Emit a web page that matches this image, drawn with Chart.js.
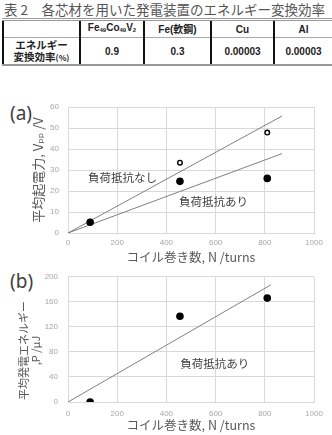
<!DOCTYPE html>
<html lang="ja">
<head>
<meta charset="utf-8">
<script src="https://cdn.jsdelivr.net/npm/chart.js@4.4.1/dist/chart.umd.min.js"></script>
<style>
  body { margin: 0; width: 332px; height: 435px; background: #fff; position: relative; overflow: hidden;
         font-family: 'Noto Sans CJK JP', sans-serif; }
  .caption { position: absolute; left: 4px; top: -1px; font-size: 13.5px; color: #555; white-space: nowrap; }
  table { position: absolute; left: 2px; top: 18px; width: 329px; border-collapse: collapse; table-layout: fixed;
          font-family: 'Liberation Sans', 'Noto Sans CJK JP', sans-serif; font-weight: bold; color: #222; }
  td { border-left: 2px solid #111; text-align: center; padding: 0; font-size: 10px; line-height: 11px; }
  tr.head td { height: 16px; border-top: 3px double #999; border-bottom: 1px solid #aaa; }
  tr.body td { height: 26px; border-bottom: 2px solid #999; }
  td.rowname { font-family: 'Noto Sans CJK JP', sans-serif; font-size: 10.5px; line-height: 12px; }
  td.rowname small { font-size: 8px; }
  sub { font-size: 6px; vertical-align: -1px; }
  .panel { position: absolute; left: 0; }
  .tag { position: absolute; left: 10px; font-size: 19px; color: #404040; font-family: 'Noto Sans', sans-serif; }
</style>
</head>
<body>
<div class="caption">表 2　各芯材を用いた発電装置のエネルギー変換効率</div>
<table>
  <colgroup><col style="width:77px"><col style="width:64px"><col style="width:67px"><col style="width:63px"><col style="width:58px"></colgroup>
  <tr class="head"><td></td><td>Fe<sub>49</sub>Co<sub>49</sub>V<sub>2</sub></td><td>Fe(軟鋼)</td><td>Cu</td><td>Al</td></tr>
  <tr class="body"><td class="rowname">エネルギー<br>変換効率<small>(%)</small></td><td>0.9</td><td>0.3</td><td>0.00003</td><td>0.00003</td></tr>
</table>

<div class="tag" style="top:100px">(a)</div>
<div class="panel" style="top:88px"><canvas id="chartA" width="332" height="177"></canvas></div>
<div class="tag" style="top:268px">(b)</div>
<div class="panel" style="top:262px"><canvas id="chartB" width="332" height="173"></canvas></div>

<script>
// ---- data ----
const turns = [90, 455, 810];
const vppNoLoad = [5.3, 33.5, 47.8];      // open circles
const vppLoad = [5.1, 24.6, 26.0];        // filled circles
const energyLoad = [0, 137, 166];         // panel (b), µJ
const fitTurnsA = [0, 870];
const fitNoLoad = [0, 55.7];
const fitLoad = [0, 37.8];
const fitTurnsB = [0, 824];
const fitEnergy = [0, 187];
const xTicks = [0, 200, 400, 600, 800, 1000];

const FONT_JP = "'Noto Sans CJK JP', 'DejaVu Sans', sans-serif";
const GRID = '#d9d9d9';
const TICK = '#a6a6a6';
const TEXT = '#595959';
const FIT = '#808080';

const pts = (xs, ys) => xs.map((x, i) => ({ x, y: ys[i] }));

// label text placed in data coordinates
const notesPlugin = {
    id: 'notes',
    afterDatasetsDraw(chart, args, opts) {
        const { ctx, scales: { x, y } } = chart;
        ctx.save();
        ctx.font = "11.5px " + FONT_JP;
        ctx.fillStyle = '#404040';
        ctx.textAlign = 'center';
        ctx.textBaseline = 'middle';
        (opts.items || []).forEach(n => ctx.fillText(n.text, x.getPixelForValue(n.x), y.getPixelForValue(n.y)));
        ctx.restore();
    }
};

function makeScales(yMax, yStep, yTitle, yTitleFont, yTitlePad, yTickPad, xTickPad, xTitlePad, xHeight) {
    return {
        x: {
            type: 'linear', min: 0, max: 1000,
            afterBuildTicks: s => { s.ticks = xTicks.map(v => ({ value: v })); },
            grid: { color: GRID, drawTicks: false },
            border: { color: GRID },
            ticks: { color: TICK, padding: xTickPad, font: { family: 'Liberation Sans', size: 8 },
                     callback: v => String(v) },
            title: { display: true, text: 'コイル巻き数, N /turns', color: TEXT,
                     padding: { top: 0, bottom: xTitlePad }, font: { family: FONT_JP, size: 12.5, lineHeight: 1.2 } },
            afterFit: s => { s.height = xHeight; }
        },
        y: {
            min: 0, max: yMax,
            grid: { color: GRID, drawTicks: false },
            border: { color: GRID },
            ticks: { stepSize: yStep, color: TICK, padding: yTickPad, font: { family: 'Liberation Sans', size: 8 },
                     callback: v => String(v) },
            title: { display: true, text: yTitle, color: TEXT,
                     padding: { top: yTitlePad, bottom: 0 }, font: yTitleFont },
            afterFit: s => { s.width = 68; }
        }
    };
}

const common = {
    responsive: false,
    animation: false,
    devicePixelRatio: 1,
    plugins: { legend: { display: false }, tooltip: { enabled: false } }
};

new Chart(document.getElementById('chartA'), {
    type: 'scatter',
    data: {
        datasets: [
            { data: pts(turns, vppLoad), pointRadius: 3.8, pointBackgroundColor: '#000', pointBorderColor: '#000', pointBorderWidth: 0 },
            { data: pts(turns, vppNoLoad), pointRadius: 2.3, pointBackgroundColor: '#fff', pointBorderColor: '#000', pointBorderWidth: 1.4 },
            { data: pts(fitTurnsA, fitNoLoad), showLine: true, pointRadius: 0, borderColor: FIT, borderWidth: 1 },
            { data: pts(fitTurnsA, fitLoad), showLine: true, pointRadius: 0, borderColor: FIT, borderWidth: 1 }
        ]
    },
    options: {
        ...common,
        layout: { padding: { top: 19, right: 18, left: 0, bottom: 0 } },
        scales: makeScales(60, 10, '平均起電力, Vₚₚ /V', { family: FONT_JP, size: 13, lineHeight: 1.15 },
                           31, 9, 5, 0.5, 32),
        plugins: {
            ...common.plugins,
            notes: { items: [
                { text: '負荷抵抗なし', x: 222, y: 26.2 },
                { text: '負荷抵抗あり', x: 591, y: 14.8 }
            ] }
        }
    },
    plugins: [notesPlugin]
});

new Chart(document.getElementById('chartB'), {
    type: 'scatter',
    data: {
        datasets: [
            { data: pts(turns, energyLoad), pointRadius: 3.8, pointBackgroundColor: '#000', pointBorderColor: '#000', pointBorderWidth: 0 },
            { data: pts(fitTurnsB, fitEnergy), showLine: true, pointRadius: 0, borderColor: FIT, borderWidth: 1 }
        ]
    },
    options: {
        ...common,
        layout: { padding: { top: 12, right: 18, left: 0, bottom: 0 } },
        // trailing ideographic spaces push the rotated title down like the original
        scales: makeScales(200, 40, ['平均発電エネルギー\u3000\u3000', ',P /μJ\u3000\u3000'],
                           { family: FONT_JP, size: 11, lineHeight: 1.1 }, 18, 10, 7, 1.8, 33),
        plugins: {
            ...common.plugins,
            notes: { items: [
                { text: '負荷抵抗あり', x: 597, y: 60.8 }
            ] }
        }
    },
    plugins: [notesPlugin]
});
</script>
</body>
</html>
